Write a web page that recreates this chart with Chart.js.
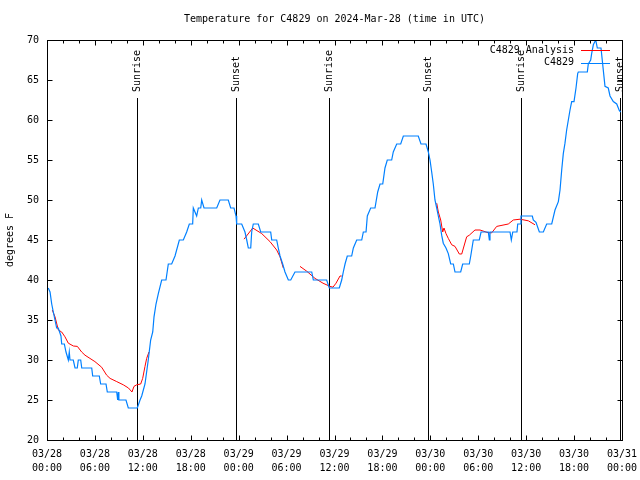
<!DOCTYPE html>
<html>
<head>
<meta charset="utf-8">
<script src="https://cdn.jsdelivr.net/npm/chart.js@4"></script>
<style>
html,body{margin:0;padding:0;background:#fff;}
canvas{display:block;}
</style>
</head>
<body>
<canvas id="c" width="640" height="480"></canvas>
<script>
// ---- data (hours since 03/28 00:00 UTC) ----
const titleText = 'Temperature for C4829 on 2024-Mar-28 (time in UTC)';
const yAxisTitle = 'degrees F';
const seriesNames = ['C4829 Analysis', 'C4829'];

const xTickLabels = [
  ['03/28','00:00'],['03/28','06:00'],['03/28','12:00'],['03/28','18:00'],
  ['03/29','00:00'],['03/29','06:00'],['03/29','12:00'],['03/29','18:00'],
  ['03/30','00:00'],['03/30','06:00'],['03/30','12:00'],['03/30','18:00'],
  ['03/31','00:00']
];

const eventHours  = [11.3, 23.7, 35.35, 47.75, 59.3, 71.8];
const eventLabels = ['Sunrise','Sunset','Sunrise','Sunset','Sunrise','Sunset'];

const obsHours = [0.16,0.38,0.59,0.79,1.0,1.21,1.41,1.75,1.84,2.17,2.38,2.67,2.79,2.88,3.29,3.51,3.79,3.92,4.22,4.35,5.6,5.72,6.55,6.72,7.39,7.55,8.73,8.85,8.93,9.0,9.89,10.18,11.31,11.65,11.86,12.27,12.68,12.98,13.24,13.4,13.65,13.94,14.36,14.9,15.19,15.61,16.03,16.57,17.07,17.49,17.82,18.24,18.32,18.53,18.74,18.95,19.25,19.37,19.66,21.25,21.66,22.7,23.0,23.42,23.67,23.75,24.38,24.79,25.01,25.21,25.51,25.63,25.83,26.46,26.76,28.01,28.14,28.76,28.96,29.18,29.51,29.8,30.22,30.52,31.05,33.15,33.35,35.02,35.35,36.6,36.9,37.1,37.32,37.6,38.15,38.36,38.78,39.41,39.61,39.95,40.11,40.53,41.07,41.41,41.7,42.04,42.32,42.61,43.16,43.36,43.79,44.29,44.62,46.49,46.83,47.46,47.75,47.96,48.17,48.37,48.58,48.8,49.0,49.21,49.42,49.62,49.96,50.25,50.55,50.88,51.09,51.8,52.05,52.88,53.06,53.38,54.13,54.35,55.26,55.39,55.47,57.98,58.14,58.32,58.85,58.94,59.29,59.35,60.77,60.89,61.23,61.65,62.15,62.57,63.2,63.61,64.03,64.24,64.45,64.65,64.86,65.07,65.28,65.49,65.7,65.99,66.24,66.45,66.53,67.66,67.78,68.08,68.2,68.41,68.71,68.91,69.37,69.87,70.28,70.5,70.91,71.34,71.66,71.83];
const obsTemps = [39,38.5,37,36,35,34,34,33,32,32,31,30,31,30,30,29,29,30,30,29,29,28,28,27,27,26,26,25,26,25,25,24,24,25,25.5,27,30,32.5,33.5,35.4,37,38.3,40,40,42,42,43,45,45,46,47,47,49,48.5,48,49,49,50,49,49,50,50,49,49,48,47,47,46,45,44,44,46,47,47,46,46,45,45,44,43,42,41,40,40,41,41,40,40,39,39,40,41,42,43,43,44,45,45,46,46,48,49,49,51,52,52,54,55,55,56,57,57,58,58,57,57,56,55,53.5,52,50,49,48,47,45.6,44.6,44,43.3,42,42,41,41,42,42,43,45,45,46,46,45,46,46,45,46,46,47,47,48,48,47.5,47.2,46,46,47,47,48.75,49.8,51.25,53.75,55.8,57.1,58.75,60,61.25,62.3,62.3,64,65.8,66,66,67,67.5,68.3,69.4,70,69,69,64.2,64,63,62.3,62,61.2,61];

// analysis series; null temperature = break in the line
const anaHours = [0.66,1.0,1.42,1.84,2.25,2.67,3.3,3.8,4.34,4.76,5.38,6.0,6.84,7.47,7.9,8.73,9.55,10.2,10.64,10.89,11.23,11.73,11.98,12.27,12.48,12.77,
  18,
  24.67,25.76,26.89,27.92,28.76,29.18,29.59,
  30.6,
  31.68,32.52,33.56,34.56,35.44,35.81,36.19,36.69,36.9,
  42,
  48.8,49.0,49.3,49.55,49.71,49.96,50.25,50.68,51.09,51.63,51.93,52.55,52.88,53.59,54.22,55.26,55.69,56.31,57.76,58.39,59.23,60.27,61.11];
const anaTemps = [36.25,35.4,33.75,33.5,32.9,32.1,31.75,31.7,31,30.6,30.2,29.8,29.1,28.1,27.7,27.3,26.9,26.5,26.0,26.7,26.9,27.0,27.7,29.2,30.2,31.0,
  null,
  45.1,46.5,45.8,44.8,43.75,42.9,41.5,
  null,
  41.7,41.1,40.2,39.6,39.2,39.1,39.6,40.5,40.5,
  null,
  49.6,48.5,47.5,46.0,46.5,45.8,45.2,44.4,44.2,43.25,43.25,45.4,45.6,46.25,46.25,45.9,45.9,46.7,47.0,47.5,47.6,47.4,46.9];

const RED = '#ff0000';
const BLUE = '#0080ff';
const FONT = '10px "DejaVu Sans Mono", monospace';

const toPts = (hs, ts) => hs.map((h, i) => ({x: h, y: ts[i]}));

const decor = {
  id: 'decor',
  beforeDatasetsDraw(chart) {
    const ctx = chart.ctx, xs = chart.scales.x, a = chart.chartArea;
    ctx.save();
    ctx.strokeStyle = '#000';
    ctx.lineWidth = 1;
    ctx.fillStyle = '#000';
    ctx.font = FONT;
    eventHours.forEach((h, i) => {
      const x = Math.round(xs.getPixelForValue(h)) + 0.5;
      ctx.beginPath();
      ctx.moveTo(x, 98);
      ctx.lineTo(x, a.bottom);
      ctx.stroke();
      ctx.save();
      ctx.translate(x, 92);
      ctx.rotate(-Math.PI / 2);
      ctx.textAlign = 'left';
      ctx.textBaseline = 'middle';
      ctx.fillText(eventLabels[i], 0, 0);
      ctx.restore();
    });
    ctx.restore();
  },
  afterDraw(chart) {
    const ctx = chart.ctx, xs = chart.scales.x, ys = chart.scales.y, a = chart.chartArea;
    ctx.save();
    ctx.strokeStyle = '#000';
    ctx.lineWidth = 1;
    const L = Math.round(a.left) + 0.5, R = Math.round(a.right) + 0.5;
    const T = Math.round(a.top) + 0.5, B = Math.round(a.bottom) + 0.5;
    ctx.strokeRect(L, T, R - L, B - T);
    ctx.beginPath();
    for (let h = 0; h <= 72; h += 2) {
      const x = Math.round(xs.getPixelForValue(h)) + 0.5;
      const len = (h % 6 === 0) ? 5 : 3;
      ctx.moveTo(x, B); ctx.lineTo(x, B - len);
      ctx.moveTo(x, T); ctx.lineTo(x, T + len);
    }
    for (let v = 20; v <= 70; v += 5) {
      const y = Math.round(ys.getPixelForValue(v)) + 0.5;
      ctx.moveTo(L, y); ctx.lineTo(L + 5, y);
      ctx.moveTo(R, y); ctx.lineTo(R - 5, y);
    }
    ctx.stroke();

    ctx.fillStyle = '#000';
    ctx.font = FONT;
    ctx.textAlign = 'center';
    ctx.textBaseline = 'middle';
    ctx.fillText(titleText, (a.left + a.right) / 2, 19);

    ctx.save();
    ctx.translate(10, (a.top + a.bottom) / 2);
    ctx.rotate(-Math.PI / 2);
    ctx.fillText(yAxisTitle, 0, 0);
    ctx.restore();

    // legend
    const colors = [RED, BLUE];
    seriesNames.forEach((n, i) => {
      const y = 50 + i * 12.5;
      ctx.textAlign = 'right';
      ctx.fillStyle = '#000';
      ctx.fillText(n, 574, y);
      ctx.strokeStyle = colors[i];
      ctx.beginPath();
      ctx.moveTo(581, Math.round(y) + 0.5);
      ctx.lineTo(610, Math.round(y) + 0.5);
      ctx.stroke();
    });
    ctx.restore();
  }
};

Chart.defaults.font.family = '"DejaVu Sans Mono", monospace';
Chart.defaults.font.size = 10;
Chart.defaults.color = '#000';

new Chart(document.getElementById('c'), {
  type: 'line',
  data: {
    datasets: [
      {
        label: seriesNames[0],
        data: toPts(anaHours, anaTemps),
        borderColor: RED, borderWidth: 1, pointRadius: 0, tension: 0,
        spanGaps: false, order: 2
      },
      {
        label: seriesNames[1],
        data: toPts(obsHours, obsTemps),
        borderColor: BLUE, borderWidth: 1.2, pointRadius: 0, tension: 0,
        order: 1
      }
    ]
  },
  options: {
    responsive: false,
    animation: false,
    events: [],
    layout: { padding: { top: 40, right: 18, left: 0, bottom: 0 } },
    plugins: { legend: { display: false }, tooltip: { enabled: false }, title: { display: false } },
    scales: {
      x: {
        type: 'linear', min: 0, max: 72,
        afterFit: s => { s.height = 40; s.paddingLeft = 0; s.paddingRight = 0; },
        grid: { display: false, drawTicks: false },
        border: { display: false },
        ticks: {
          stepSize: 6, padding: 7, maxRotation: 0, autoSkip: false,
          font: { size: 10, lineHeight: 1.4 },
          callback: v => xTickLabels[Math.round(v / 6)]
        }
      },
      y: {
        min: 20, max: 70,
        afterFit: s => { s.width = 47; s.paddingTop = 0; s.paddingBottom = 0; },
        grid: { display: false, drawTicks: false },
        border: { display: false },
        ticks: { stepSize: 5, padding: 8 }
      }
    }
  },
  plugins: [decor]
});
</script>
</body>
</html>
